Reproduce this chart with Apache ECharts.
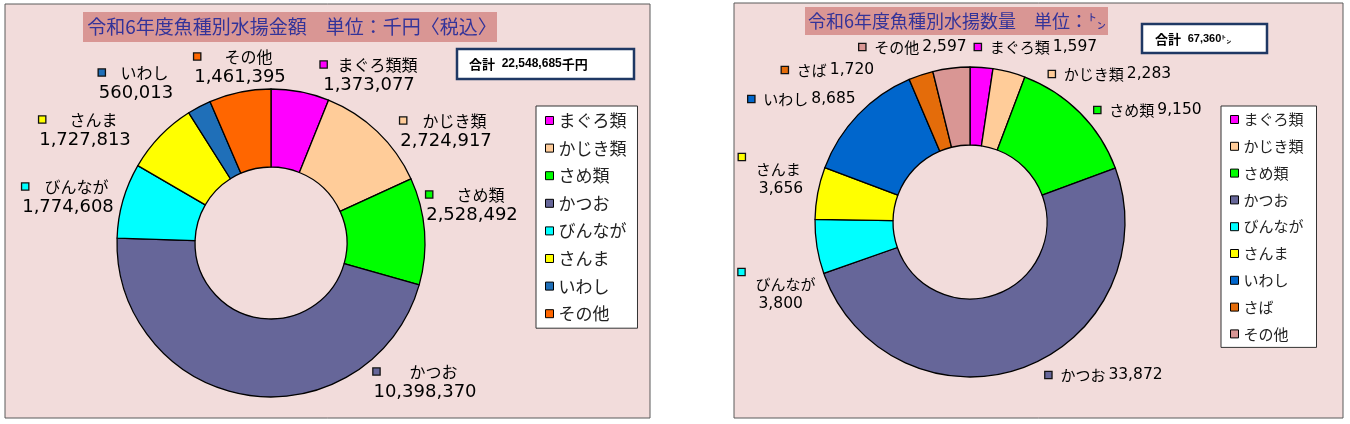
<!DOCTYPE html>
<html>
<head>
<meta charset="utf-8">
<script src="https://cdn.jsdelivr.net/npm/echarts@6/dist/echarts.min.js"></script>
<style>
html,body{margin:0;padding:0;background:#fff;}
.c{position:absolute;left:0;top:0;width:1350px;height:424px;}
</style>
</head>
<body>
<div id="left" class="c"></div>
<div id="right" class="c"></div>
<script>
// ---------- data ----------
const leftTitle = '令和6年度魚種別水揚金額　単位：千円〈税込〉';
const leftCategories = ['まぐろ類','かじき類','さめ類','かつお','びんなが','さんま','いわし','その他'];
const leftLabelNames = ['まぐろ類類','かじき類','さめ類','かつお','びんなが','さんま','いわし','その他'];
const leftValues = [1373077, 2724917, 2528492, 10398370, 1774608, 1727813, 560013, 1461395];
const leftTotal = '22,548,685';
const leftUnit = '千円';

const rightTitle = '令和6年度魚種別水揚数量　単位：㌧';
const rightCategories = ['まぐろ類','かじき類','さめ類','かつお','びんなが','さんま','いわし','さば','その他'];
const rightValues = [1597, 2283, 9150, 33872, 3800, 3656, 8685, 1720, 2597];
const rightWrapped = ['びんなが','さんま'];
const rightTotal = '67,360';
const rightUnit = '㌧';

// ---------- styles ----------
const leftColors = ['#FF00FF','#FFCC99','#00FF00','#666699','#00FFFF','#FFFF00','#1F6FB8','#FF6600'];
const rightColors = ['#FF00FF','#FFCC99','#00FF00','#666699','#00FFFF','#FFFF00','#0066CC','#E46C0A','#D99694'];
const leftLabelAt = [[369,75],[446,131],[472,205],[425,382],[68,197],[85,130],[136,83],[240,67]];
const rightLabelAt = [[1036,47],[1110,74],[1148,110],[1104,375],[777,291],[771,176],[802,99],[828,70],[913,47]];

const JP = '"Noto Sans CJK JP", "Noto Sans", sans-serif';
const NUM = '"DejaVu Sans", sans-serif';
const PANEL = '#F2DCDB';
const TITLEBG = '#D99694';
const TITLEFG = '#333399';

function fmt(v){ return v.toLocaleString('en-US'); }

function markerRich(colors){
  const r = {};
  colors.forEach((c,i)=>{
    r['m'+i] = {width:6, height:6, backgroundColor:c, borderColor:'#111', borderWidth:1.3, align:'left'};
  });
  return r;
}

// ---------- left chart ----------
const leftChart = echarts.init(document.getElementById('left'), null, {renderer:'canvas'});
leftChart.setOption({
  animation:false,
  graphic:[
    {type:'rect', z:-10, shape:{x:5,y:4,width:645,height:414}, style:{fill:PANEL, stroke:'#5a5a5a', lineWidth:1}},
    {type:'rect', z:-9, shape:{x:83,y:12,width:414,height:30}, style:{fill:TITLEBG}},
    {type:'text', z:-8, x:292, y:27, style:{text:leftTitle, align:'center', verticalAlign:'middle', fontSize:19, fontFamily:JP, fill:TITLEFG}},
    {type:'rect', z:-9, shape:{x:457,y:49,width:177,height:30}, style:{fill:'#fff', stroke:'#1F3864', lineWidth:2.5}},
    {type:'text', z:-8, x:469, y:64, style:{
      text:'{a|合計}  {b|'+leftTotal+'}{c|'+leftUnit+'}', align:'left', verticalAlign:'middle',
      rich:{a:{fontSize:13, fontWeight:'bold', fontFamily:JP, fill:'#000'},
            b:{fontSize:12, fontWeight:'bold', fontFamily:'"Liberation Sans", Arial, sans-serif', fill:'#000'},
            c:{fontSize:13, fontWeight:'bold', fontFamily:JP, fill:'#000'}}
    }}
  ],
  legend:{
    orient:'vertical', left:536, top:106, padding:[5,11,5,9], itemGap:8.6,
    itemWidth:8, itemHeight:8, icon:'rect',
    backgroundColor:'#fff', borderColor:'#333', borderWidth:1,
    textStyle:{fontSize:17, fontFamily:JP, color:'#222', lineHeight:19},
    itemStyle:{borderColor:'#000', borderWidth:1},
    selectedMode:false,
    data:leftCategories
  },
  series:[{
    type:'pie', center:[271,243], radius:[76,154], startAngle:90, clockwise:true,
    avoidLabelOverlap:false,
    emphasis:{disabled:true},
    itemStyle:{borderColor:'#000', borderWidth:1.3},
    data:leftCategories.map((n,i)=>({name:n, value:leftValues[i], itemStyle:{color:leftColors[i]}})),
    label:{
      show:true, position:'outside', color:'#000', fontFamily:JP, fontSize:16,
      formatter:p=>'{m'+p.dataIndex+'|}   {n|'+leftLabelNames[p.dataIndex]+'}\n{v|'+fmt(p.value)+'}',
      rich:Object.assign(markerRich(leftColors), {
        n:{fontFamily:JP, fontSize:16, color:'#000', lineHeight:20},
        v:{fontFamily:NUM, fontSize:18, color:'#000', lineHeight:21}
      })
    },
    labelLine:{show:false},
    labelLayout:p=>{const c=leftLabelAt[p.dataIndex]; return {x:c[0], y:c[1], align:'center', verticalAlign:'middle'};}
  }]
});

// ---------- right chart ----------
const rightChart = echarts.init(document.getElementById('right'), null, {renderer:'canvas'});
rightChart.setOption({
  animation:false,
  graphic:[
    {type:'rect', z:-10, shape:{x:734,y:3,width:609,height:415}, style:{fill:PANEL, stroke:'#5a5a5a', lineWidth:1}},
    {type:'rect', z:-9, shape:{x:805,y:7,width:303,height:28}, style:{fill:TITLEBG}},
    {type:'text', z:-8, x:957, y:21, style:{text:rightTitle, align:'center', verticalAlign:'middle', fontSize:18, fontFamily:JP, fill:TITLEFG}},
    {type:'rect', z:-9, shape:{x:1142,y:24,width:125,height:29}, style:{fill:'#fff', stroke:'#1F3864', lineWidth:2.5}},
    {type:'text', z:-8, x:1155, y:39, style:{
      text:'{a|合計}  {b|'+rightTotal+'}{c|'+rightUnit+'}', align:'left', verticalAlign:'middle',
      rich:{a:{fontSize:13, fontWeight:'bold', fontFamily:JP, fill:'#000'},
            b:{fontSize:11, fontWeight:'bold', fontFamily:'"Liberation Sans", Arial, sans-serif', fill:'#000'},
            c:{fontSize:10, fontWeight:'bold', fontFamily:JP, fill:'#000'}}
    }}
  ],
  legend:{
    orient:'vertical', left:1221, top:106, padding:[5,13,5,9], itemGap:9.8,
    itemWidth:8, itemHeight:8, icon:'rect',
    backgroundColor:'#fff', borderColor:'#333', borderWidth:1,
    textStyle:{fontSize:15, fontFamily:JP, color:'#222', lineHeight:17},
    itemStyle:{borderColor:'#000', borderWidth:1},
    selectedMode:false,
    data:rightCategories
  },
  series:[{
    type:'pie', center:[970,222], radius:[77,155], startAngle:90, clockwise:true,
    avoidLabelOverlap:false,
    emphasis:{disabled:true},
    itemStyle:{borderColor:'#000', borderWidth:1.3},
    data:rightCategories.map((n,i)=>({name:n, value:rightValues[i], itemStyle:{color:rightColors[i]}})),
    label:{
      show:true, position:'outside', color:'#000', fontFamily:JP, fontSize:15,
      formatter:p=>{
        const i=p.dataIndex, name=rightCategories[i];
        if(rightWrapped.indexOf(name)>=0){
          return '{m'+i+'|}\n{nw|'+name+'}\n{vw|'+fmt(p.value)+'}';
        }
        return '{m'+i+'|}{n|'+name+'}{v|'+fmt(p.value)+'}';
      },
      rich:Object.assign(markerRich(rightColors), {
        n:{fontFamily:JP, fontSize:15, color:'#000', lineHeight:18, padding:[0,0,0,9]},
        v:{fontFamily:NUM, fontSize:15.5, color:'#000', lineHeight:18, padding:[0,0,0,3]},
        nw:{fontFamily:JP, fontSize:15, color:'#000', lineHeight:19, align:'left', padding:[0,0,0,17]},
        vw:{fontFamily:NUM, fontSize:15.5, color:'#000', lineHeight:19, align:'left', padding:[0,0,0,20]}
      })
    },
    labelLine:{show:false},
    labelLayout:p=>{const c=rightLabelAt[p.dataIndex]; return {x:c[0], y:c[1], align:'center', verticalAlign:'middle'};}
  }]
});
</script>
</body>
</html>
